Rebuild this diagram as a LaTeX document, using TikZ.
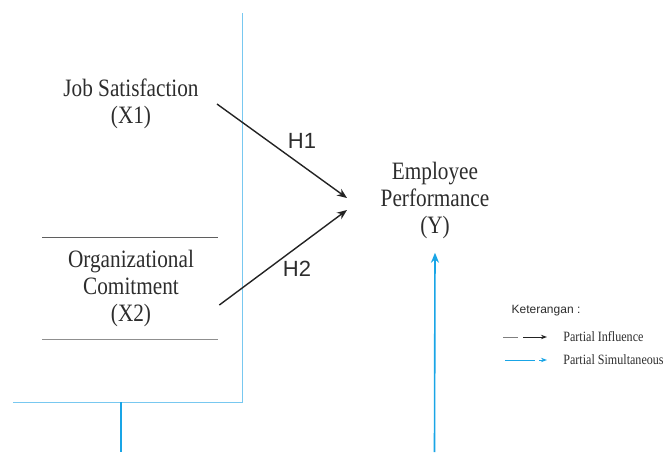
\documentclass[tikz,border=0pt]{standalone}
\usepackage{fontspec}
\setmainfont{Liberation Serif}[FakeStretch=0.85]
\newfontfamily\hfont{Liberation Sans}
\usetikzlibrary{arrows.meta}
\definecolor{textgray}{RGB}{45,45,45}
\definecolor{arrowgray}{RGB}{35,35,35}
\definecolor{rulegray}{RGB}{95,95,95}
\definecolor{framecyan}{RGB}{120,200,240}
\definecolor{simcyan}{RGB}{25,165,230}
\tikzset{
  var/.style={align=center, inner sep=0pt, text=textgray,
    font=\fontsize{12.5}{13.5}\selectfont},
  hyp/.style={inner sep=0pt, text=textgray, font=\hfont\fontsize{11}{13}\selectfont},
  partial/.style={draw=arrowgray, line width=0.7pt,
    -{Stealth[length=5pt,width=4pt]}},
  simult/.style={draw=simcyan, line width=0.8pt,
    -{Stealth[length=5pt,width=4pt]}},
  frame/.style={draw=framecyan, line width=0.5pt},
  legtext/.style={inner sep=1pt, text=textgray, font=\fontsize{7.1}{8}\selectfont}
}
\begin{document}
\begin{tikzpicture}[x=0.5pt, y=-0.5pt]
  \useasboundingbox (0,0) rectangle (665,452);
  % blue frame round the independent variables
  \draw [frame] (242,13) -- (242,402) -- (13,402);
  \draw [draw=simcyan, line width=0.8pt] (121,402) -- (121,452);
  \draw [rulegray, line width=0.5pt] (42,237) -- (218,237);
  \draw [rulegray!70, line width=0.5pt] (42,339) -- (218,339);

  \node [var] (js) at (131,104) {Job Satisfaction\\(X1)};
  \node [var] (oc) at (131,288) {Organizational\\Comitment\\(X2)};
  \node [var] (ep) at (435,200) {Employee\\Performance\\(Y)};

  \coordinate (h1 end) at (347,198);
  \coordinate (h2 end) at (347,210);
  \coordinate (y in) at (434.5,452);
  \draw [partial] ([xshift=9pt]js.east) -- (h1 end);
  \draw [partial] ([shift={(12.5pt,-8.5pt)}]oc.east) -- (h2 end);
  \draw [simult] (y in) -- ([yshift=-7pt]ep.south);
  \node [hyp] (h1) at (302,141) {H1};
  \node [hyp] (h2) at (297,269) {H2};

  % legend
  \node [inner sep=0pt, text=textgray, font=\hfont\fontsize{6}{7}\selectfont]
    (ket) at (546,311) {Keterangan :};
  \node [legtext, anchor=west] (pi) at (561,337) {Partial Influence};
  \node [legtext, anchor=west] (ps) at (561,360) {Partial Simultaneous};
  \draw [rulegray!80, line width=0.5pt] ([xshift=-29pt]pi.west) -- ([xshift=-21.5pt]pi.west);
  \draw [arrowgray, line width=0.5pt, -{Stealth[length=3pt,width=2.2pt]}]
    ([xshift=-19pt]pi.west) -- ([xshift=-7pt]pi.west);
  \draw [simcyan, line width=0.5pt] ([xshift=-28pt]ps.west) -- ([xshift=-13pt]ps.west);
  \draw [simcyan, line width=0.5pt, -{Stealth[length=3pt,width=2.2pt]}]
    ([xshift=-11pt]ps.west) -- ([xshift=-7pt]ps.west);
\end{tikzpicture}
\end{document}
